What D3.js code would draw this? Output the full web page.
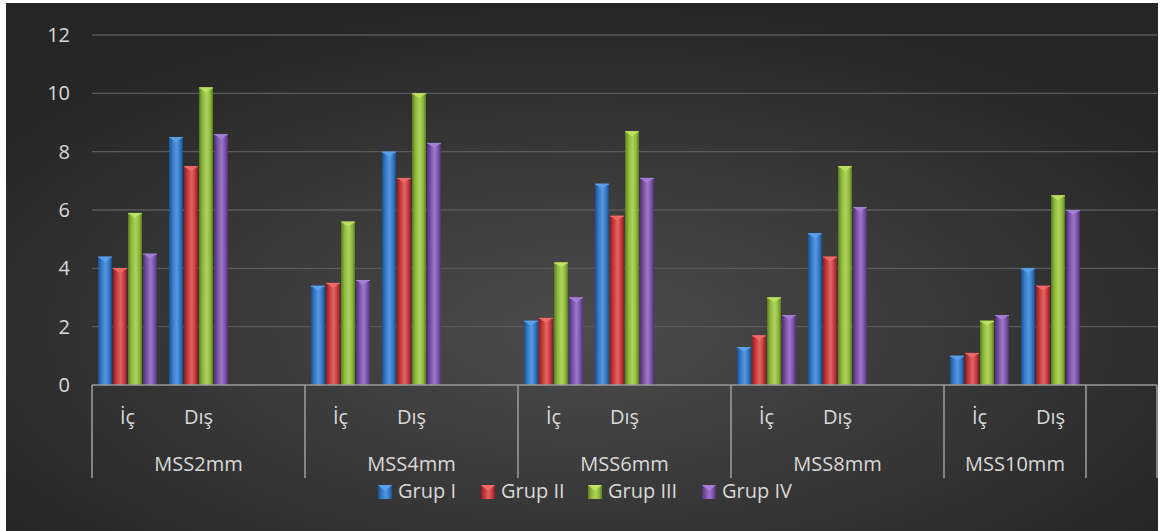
<!DOCTYPE html>
<html>
<head>
<meta charset="utf-8">
<script src="https://cdn.jsdelivr.net/npm/d3@7"></script>
<style>
  html, body { margin: 0; padding: 0; background: #fff; }
  svg { display: block; }
  text { font-family: "Open Sans", "Noto Sans", sans-serif; fill: #d9d9d9; }
</style>
</head>
<body>
<svg width="1162" height="531"></svg>
<script>
// --- data ---
const outerCats = ["MSS2mm", "MSS4mm", "MSS6mm", "MSS8mm", "MSS10mm"];
const innerCats = ["İç", "Dış"];
const seriesNames = ["Grup I", "Grup II", "Grup III", "Grup IV"];
// values per (outer, inner) pair: 2mm İç, 2mm Dış, 4mm İç, 4mm Dış, ...
const grup1 = [4.4, 8.5, 3.4, 8.0, 2.2, 6.9, 1.3, 5.2, 1.0, 4.0];
const grup2 = [4.0, 7.5, 3.5, 7.1, 2.3, 5.8, 1.7, 4.4, 1.1, 3.4];
const grup3 = [5.9, 10.2, 5.6, 10.0, 4.2, 8.7, 3.0, 7.5, 2.2, 6.5];
const grup4 = [4.5, 8.6, 3.6, 8.3, 3.0, 7.1, 2.4, 6.1, 2.4, 6.0];
const yTicks = [0, 2, 4, 6, 8, 10, 12];

const seriesVals = [grup1, grup2, grup3, grup4];
const colors = [
  {base: "#3279c8", light: "#5aa0ee", dark: "#1f4f8a"},
  {base: "#c8383a", light: "#f06a6a", dark: "#8a2022"},
  {base: "#8dba3a", light: "#bde262", dark: "#5d7f22"},
  {base: "#7b50a8", light: "#a47fd6", dark: "#4f3272"}
];

// slots: each outer category gets İç, Dış and a blank slot, except the last one
const slots = [];
outerCats.forEach((o, i) => {
  innerCats.forEach(c => slots.push({outer: o, inner: c, idx: slots.filter(s => s.inner).length}));
  if (i < outerCats.length - 1) slots.push({outer: o, inner: null});
});
slots.push({outer: "", inner: null});
slots.forEach((s, i) => s.key = i);

const svg = d3.select("svg");
const W = 1162, H = 531;
const plot = {left: 92, right: 1157, top: 35, bottom: 385};
const fs = 20;

// --- background ---
const defs = svg.append("defs");
const bg = defs.append("radialGradient").attr("id", "bg")
  .attr("cx", "50%").attr("cy", "62%").attr("r", "62%");
bg.append("stop").attr("offset", "0%").attr("stop-color", "#4c4c4c");
bg.append("stop").attr("offset", "100%").attr("stop-color", "#262626");
svg.append("rect").attr("x", 6).attr("y", 3).attr("width", 1152).attr("height", H - 3)
  .attr("fill", "url(#bg)");

colors.forEach((c, i) => {
  const lg = defs.append("linearGradient").attr("id", "bar" + i).attr("x1", 0).attr("x2", 1).attr("y1", 0).attr("y2", 0);
  lg.append("stop").attr("offset", "0%").attr("stop-color", c.dark);
  lg.append("stop").attr("offset", "25%").attr("stop-color", c.base);
  lg.append("stop").attr("offset", "55%").attr("stop-color", c.light).attr("stop-opacity", 0.9);
  lg.append("stop").attr("offset", "80%").attr("stop-color", c.base);
  lg.append("stop").attr("offset", "100%").attr("stop-color", c.dark);
});

// --- scales ---
const y = d3.scaleLinear().domain([0, 12]).range([plot.bottom, plot.top]);
const x0 = d3.scaleBand().domain(slots.map(s => s.key)).range([plot.left, plot.right])
  .paddingInner(0.17).paddingOuter(0.085);
const x1 = d3.scaleBand().domain(d3.range(seriesNames.length)).range([0, x0.bandwidth()]).paddingInner(0.08);
const step = x0.step();

// gridlines + y labels
svg.append("g").selectAll("line").data(yTicks.filter(t => t > 0)).join("line")
  .attr("x1", plot.left).attr("x2", plot.right)
  .attr("y1", d => y(d)).attr("y2", d => y(d))
  .attr("stroke", "#5a5a5a").attr("stroke-width", 1.3);
svg.append("g").selectAll("text").data(yTicks).join("text")
  .attr("x", 70).attr("y", d => y(d)).attr("dy", "0.35em")
  .attr("text-anchor", "end").attr("font-size", fs).text(d => d);

// --- bars ---
const barData = [];
slots.filter(s => s.inner).forEach(s => {
  seriesVals.forEach((vals, si) => barData.push({slot: s.key, si, v: vals[s.idx]}));
});
const bars = svg.append("g").selectAll("g").data(barData).join("g")
  .attr("transform", d => `translate(${x0(d.slot) + x1(d.si)},0)`);
const bw = x1.bandwidth();
bars.append("rect")
  .attr("x", 0).attr("width", bw)
  .attr("y", d => y(d.v)).attr("height", d => y(0) - y(d.v))
  .attr("fill", d => `url(#bar${d.si})`);
bars.append("path")
  .attr("d", d => {
    const t = y(d.v);
    return `M0,${t} L${bw},${t} L${bw / 2},${t + 5} Z`;
  })
  .attr("fill", d => colors[d.si].light).attr("opacity", 0.95);
bars.append("line")
  .attr("x1", 0).attr("x2", bw).attr("y1", d => y(d.v) + 0.5).attr("y2", d => y(d.v) + 0.5)
  .attr("stroke", d => colors[d.si].light).attr("stroke-width", 1);

// --- category axis ---
const axisG = svg.append("g").attr("stroke", "#9a9a9a").attr("stroke-width", 1.6);
axisG.append("line").attr("x1", plot.left).attr("x2", plot.right)
  .attr("y1", plot.bottom).attr("y2", plot.bottom);
// separators at outer group boundaries
const bounds = [0];
slots.forEach((s, i) => { if (i > 0 && s.outer !== slots[i - 1].outer) bounds.push(i); });
bounds.push(slots.length);
axisG.selectAll("line.sep").data(bounds).join("line").attr("class", "sep")
  .attr("x1", i => plot.left + i * step).attr("x2", i => plot.left + i * step)
  .attr("y1", plot.bottom).attr("y2", 478);

svg.append("g").selectAll("text").data(slots.filter(s => s.inner)).join("text")
  .attr("x", s => x0(s.key) + x0.bandwidth() / 2).attr("y", 424)
  .attr("text-anchor", "middle").attr("font-size", fs).text(s => s.inner);

const outerLabels = bounds.slice(0, -1).map((b, i) => ({name: slots[b].outer, a: b, z: bounds[i + 1]}));
svg.append("g").selectAll("text").data(outerLabels).join("text")
  .attr("x", d => plot.left + (d.a + d.z) / 2 * step).attr("y", 471)
  .attr("text-anchor", "middle").attr("font-size", fs).text(d => d.name);

// --- legend ---
const legendX = [378, 481, 588, 702];
const leg = svg.append("g").selectAll("g").data(seriesNames).join("g")
  .attr("transform", (d, i) => `translate(${legendX[i]},491)`);
leg.append("rect").attr("x", 0).attr("y", -6).attr("width", 14).attr("height", 14)
  .attr("fill", (d, i) => `url(#bar${i})`);
leg.append("path").attr("d", "M0,-6 L14,-6 L7,0 Z").attr("fill", (d, i) => colors[i].light);
leg.append("text").attr("x", 20).attr("dy", "0.35em").attr("font-size", fs).text(d => d);
</script>
</body>
</html>
